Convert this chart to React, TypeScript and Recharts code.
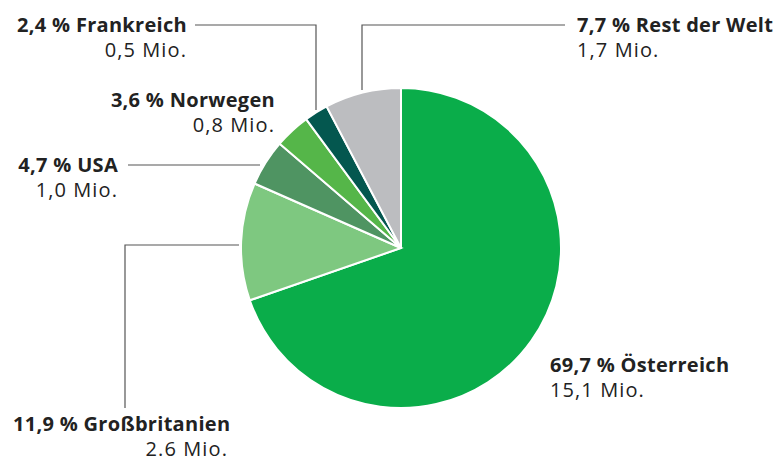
import { Pie, PieChart, Cell } from "recharts";

const countries = ["Österreich", "Großbritanien", "USA", "Norwegen", "Frankreich", "Rest der Welt"];
const shares = [69.7, 11.9, 4.7, 3.6, 2.4, 7.7];
const shareLabels = ["69,7 %", "11,9 %", "4,7 %", "3,6 %", "2,4 %", "7,7 %"];
const guests = ["15,1 Mio.", "2.6 Mio.", "1,0 Mio.", "0,8 Mio.", "0,5 Mio.", "1,7 Mio."];
const colors = ["#0aad4a", "#7ec880", "#4f9462", "#55b649", "#04574f", "#bcbdc0"];

const data = countries.map((name, i) => ({ name, value: shares[i] }));

// label placement + leader line routes, per slice
const layout = [
  { x: 550, y: 372, anchor: "start", line: null },
  { x: 228, y: 431, anchor: "end", bx: 13, line: "M239,245 H125 V408" },
  { x: 118, y: 172, anchor: "end", line: "M128,165 H260" },
  { x: 275, y: 107, anchor: "end", line: null },
  { x: 187, y: 32, anchor: "end", line: "M195,25 H316 V110" },
  { x: 577, y: 32, anchor: "start", line: "M565,25 H362 V90" },
];

const font = "'Open Sans', sans-serif";

function renderLabel(props: any) {
  const i = props.index;
  const l = layout[i];
  return (
    <g key={"lbl" + i}>
      {l.line && <path d={l.line} fill="none" stroke="#555" strokeWidth={1.2} />}
      <text
        x={l.bx ?? l.x}
        y={l.y}
        textAnchor={l.bx != null ? "start" : l.anchor}
        fontFamily={font}
        fontWeight={700}
        fontSize={20}
        letterSpacing={0.3}
        fill="#222"
      >
        {shareLabels[i]} {countries[i]}
      </text>
      <text
        x={l.x}
        y={l.y + 25}
        textAnchor={l.anchor}
        fontFamily={font}
        fontSize={20}
        letterSpacing={1.1}
        fill="#222"
      >
        {guests[i]}
      </text>
    </g>
  );
}

export default function App() {
  return (
    <div style={{ position: "absolute", left: 0, top: 0, width: 777, height: 461, background: "#fff" }}>
      <PieChart width={777} height={461} margin={{ top: 0, right: 0, bottom: 0, left: 0 }}>
        <Pie
          data={data}
          dataKey="value"
          cx={401}
          cy={248}
          outerRadius={160}
          startAngle={90}
          endAngle={-270}
          stroke="#fff"
          strokeWidth={2}
          label={renderLabel}
          labelLine={false}
          isAnimationActive={false}
        >
          {data.map((d, i) => (
            <Cell key={d.name} fill={colors[i]} />
          ))}
        </Pie>
      </PieChart>
    </div>
  );
}
